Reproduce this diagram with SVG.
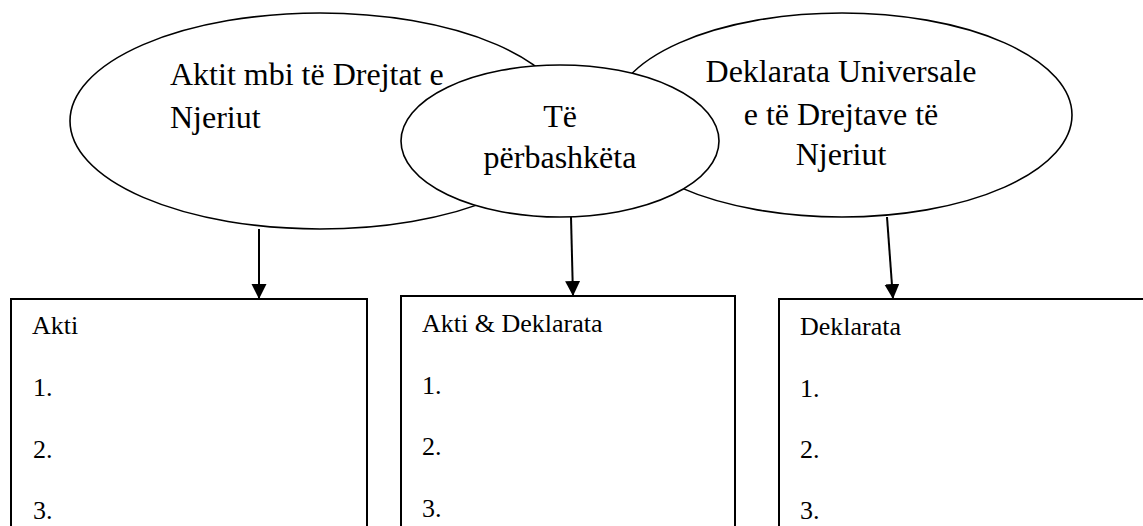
<svg xmlns="http://www.w3.org/2000/svg" width="1143" height="526" viewBox="0 0 1143 526">
  <style>
    .ell { fill: #ffffff; stroke: #000000; stroke-width: 1.6; }
    .box { fill: #ffffff; stroke: #000000; stroke-width: 2; }
    .conn { fill: none; stroke: #000000; stroke-width: 2; }
    text { font-family: 'Liberation Serif', 'DejaVu Serif', serif; fill: #000000; }
    .big { font-size: 32px; }
    .small { font-size: 26px; }
  </style>
  <defs>
    <marker id="arrow" markerUnits="userSpaceOnUse" markerWidth="16" markerHeight="16" refX="15" refY="7.5" orient="auto">
      <path d="M0,0 L15,7.5 L0,15 Z" fill="#000000"/>
    </marker>
  </defs>
  <rect width="1143" height="526" fill="#ffffff"/>

  <g id="box-akti">
    <rect class="box" x="11" y="299" width="356" height="260"/>
    <text class="small" x="32" y="334">Akti</text>
    <text class="small" x="33" y="396">1.</text>
    <text class="small" x="33" y="458">2.</text>
    <text class="small" x="33" y="519">3.</text>
  </g>

  <g id="box-perbashket">
    <rect class="box" x="401" y="296" width="334" height="260"/>
    <text class="small" x="422" y="332">Akti &amp; Deklarata</text>
    <text class="small" x="422" y="394">1.</text>
    <text class="small" x="422" y="455">2.</text>
    <text class="small" x="422" y="517">3.</text>
  </g>

  <g id="box-deklarata">
    <rect class="box" x="779" y="299" width="400" height="260"/>
    <text class="small" x="800" y="335">Deklarata</text>
    <text class="small" x="800" y="397">1.</text>
    <text class="small" x="800" y="458">2.</text>
    <text class="small" x="800" y="519">3.</text>
  </g>

  <g id="ellipse-akti">
    <ellipse class="ell" cx="320" cy="121" rx="250" ry="108"/>
    <text class="big" x="170" y="85">Aktit mbi të Drejtat e</text>
    <text class="big" x="170" y="128">Njeriut</text>
  </g>

  <g id="ellipse-deklarata">
    <ellipse class="ell" cx="842" cy="115" rx="230" ry="102"/>
    <text class="big" x="841" y="82" text-anchor="middle">Deklarata Universale</text>
    <text class="big" x="841" y="125" text-anchor="middle">e të Drejtave të</text>
    <text class="big" x="841" y="165" text-anchor="middle">Njeriut</text>
  </g>

  <g id="ellipse-perbashket">
    <ellipse class="ell" cx="560" cy="141" rx="159" ry="76"/>
    <text class="big" x="560" y="127" text-anchor="middle">Të</text>
    <text class="big" x="560" y="168" text-anchor="middle">përbashkëta</text>
  </g>

  <g id="connectors">
    <line class="conn" x1="259" y1="229" x2="259" y2="299" marker-end="url(#arrow)"/>
    <line class="conn" x1="571" y1="217" x2="573" y2="296" marker-end="url(#arrow)"/>
    <line class="conn" x1="887" y1="217" x2="893" y2="299" marker-end="url(#arrow)"/>
  </g>
</svg>
